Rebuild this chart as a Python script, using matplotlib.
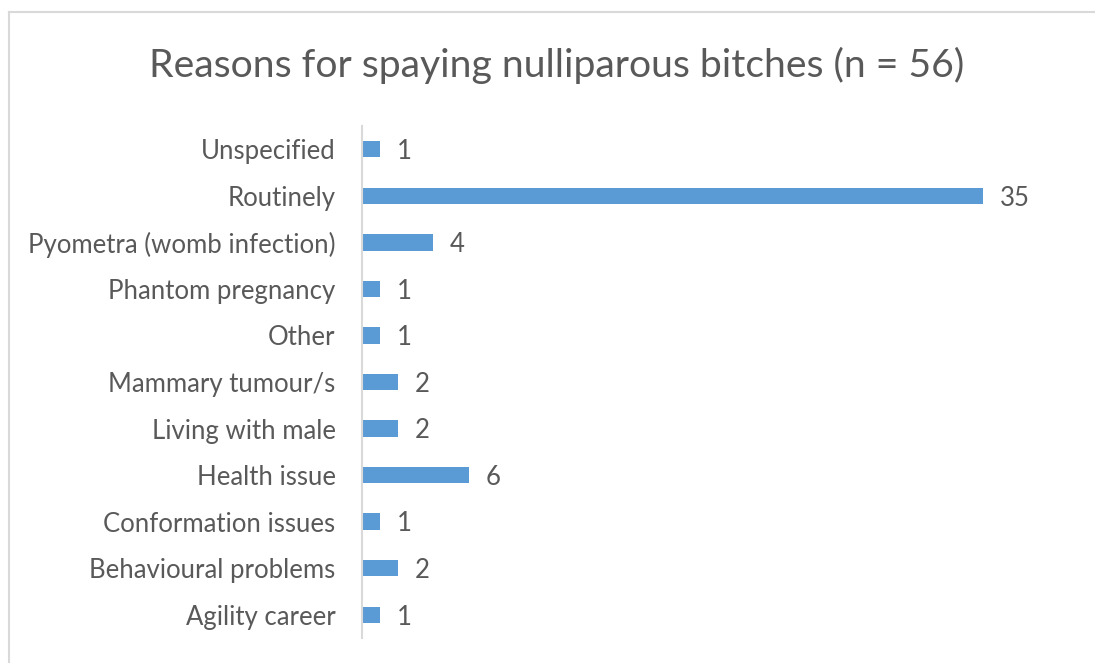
import matplotlib.pyplot as plt
from matplotlib.lines import Line2D

# reasons, listed top to bottom as shown
reasons = ['Unspecified', 'Routinely', 'Pyometra (womb infection)', 'Phantom pregnancy',
           'Other', 'Mammary tumour/s', 'Living with male', 'Health issue',
           'Conformation issues', 'Behavioural problems', 'Agility career']
counts = [1, 35, 4, 1, 1, 2, 2, 6, 1, 2, 1]

plt.rcParams['font.family'] = ['Lato', 'DejaVu Sans']
text_color = '#595959'
bar_color = '#5B9BD5'

W, H = 1095, 663
fig = plt.figure(figsize=(W / 100, H / 100), dpi=100)

# chart frame (only top and left edges visible)
fig.add_artist(Line2D([9 / W, 9 / W], [0, 1 - 12 / H], transform=fig.transFigure,
                      color='#D9D9D9', lw=1.5))
fig.add_artist(Line2D([9 / W, 1], [1 - 12 / H, 1 - 12 / H], transform=fig.transFigure,
                      color='#D9D9D9', lw=1.5))

ax = fig.add_axes([362 / W, 1 - 638 / H, (1072 - 362) / W, (638 - 126) / H])
y = list(range(len(reasons)))
ax.barh(y, counts, height=0.35, color=bar_color)
ax.set_xlim(0, 40)
ax.set_ylim(len(reasons) - 0.5, -0.5)

for yi, c in zip(y, counts):
    ax.text(c + 0.95, yi + 0.05, str(c), va='center', ha='left', fontsize=18.5,
            color=text_color)

ax.set_yticks(y)
ax.set_yticklabels(reasons, fontsize=18.5, color=text_color)
ax.tick_params(axis='y', length=0, pad=19)
ax.set_xticks([])
for side in ['top', 'right', 'bottom']:
    ax.spines[side].set_visible(False)
ax.spines['left'].set_color('#D9D9D9')
ax.spines['left'].set_linewidth(1.5)

fig.text(557 / W, 1 - 65 / H, 'Reasons for spaying nulliparous bitches (n = 56)',
         ha='center', va='center', fontsize=28.2, color=text_color)

fig.savefig('out.png', dpi=100)
